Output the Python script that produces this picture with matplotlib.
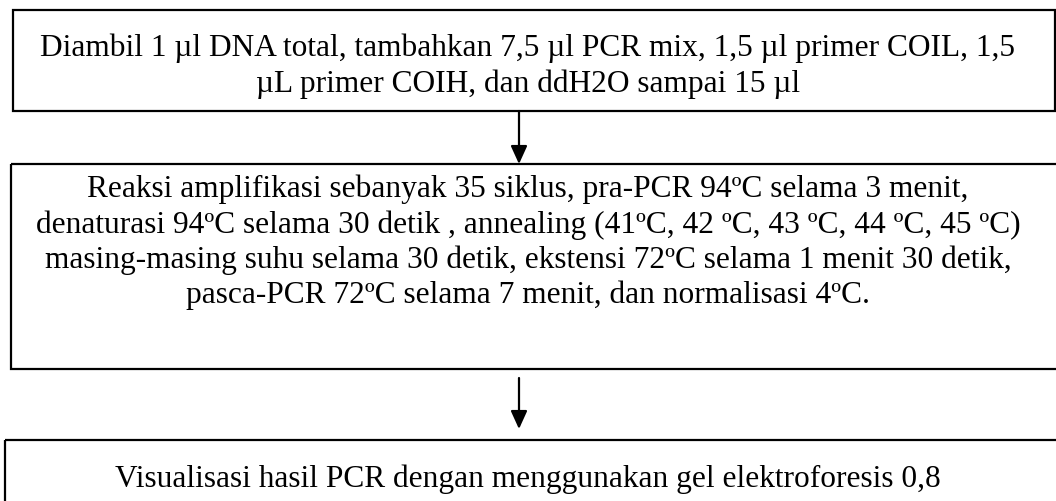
import matplotlib.pyplot as plt
from matplotlib.patches import Rectangle

# text of each step in the flow, one list entry per line
step1 = ["Diambil 1 µl DNA total, tambahkan 7,5 µl PCR mix, 1,5 µl primer COIL, 1,5",
         "µL primer COIH, dan ddH2O sampai 15 µl"]
step2 = ["Reaksi amplifikasi sebanyak 35 siklus, pra-PCR 94ºC selama 3 menit,",
         "denaturasi 94ºC selama 30 detik , annealing (41ºC, 42 ºC, 43 ºC, 44 ºC, 45 ºC)",
         "masing-masing suhu selama 30 detik, ekstensi 72ºC selama 1 menit 30 detik,",
         "pasca-PCR 72ºC selama 7 menit, dan normalisasi 4ºC."]
step3 = ["Visualisasi hasil PCR dengan menggunakan gel elektroforesis 0,8"]

steps = [step1, step2, step3]

# layout in pixel coordinates (x0, y0, x1, y1), first baseline, line step
boxes = [(13, 10, 1055, 111), (11, 164, 1070, 369), (5, 440, 1070, 520)]
baselines = [56, 197, 487]
line_step = [35.5, 35.5, 36]
arrows = [(519, 111, 164), (519, 378, 429)]

fig = plt.figure(figsize=(10.56, 5.01), dpi=100)
ax = fig.add_axes([0, 0, 1, 1])
ax.set_xlim(0, 1056)
ax.set_ylim(501, 0)
ax.axis("off")

for (x0, y0, x1, y1), lines, b, dy in zip(boxes, steps, baselines, line_step):
    ax.add_patch(Rectangle((x0, y0), x1 - x0, y1 - y0, fill=False,
                           edgecolor="black", linewidth=1.6))
    for i, line in enumerate(lines):
        ax.text(528, b + i * dy, line, ha="center", va="baseline",
                fontsize=22.6, family="Liberation Serif", color="black")

for x, ya, yb in arrows:
    ax.annotate("", xy=(x, yb), xytext=(x, ya),
                arrowprops=dict(arrowstyle="-|>,head_length=1.1,head_width=0.5",
                                color="black", lw=1.6, shrinkA=0, shrinkB=0))

fig.savefig("out.png", dpi=100)
